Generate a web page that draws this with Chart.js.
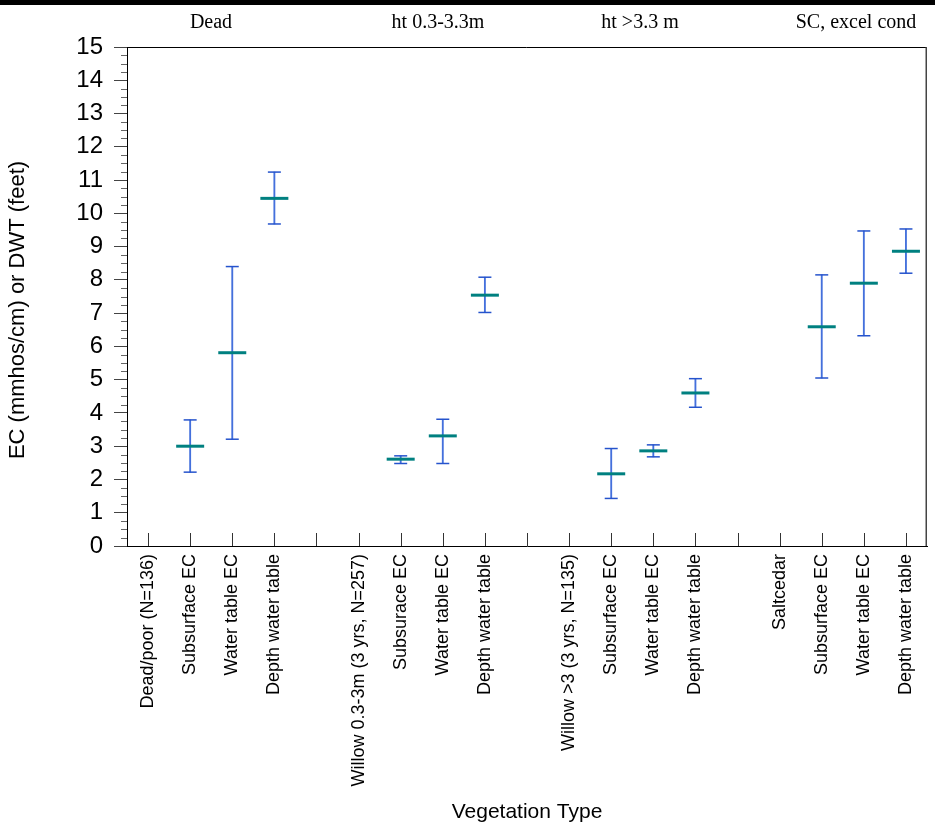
<!DOCTYPE html>
<html lang="en">
<head>
  <meta charset="UTF-8">
  <title>EC and depth to water table by vegetation type</title>
  <script src="https://cdn.jsdelivr.net/npm/chart.js"></script>
  <style>
    body { margin: 0; background: #fff; }
    .wrap { width: 935px; height: 827px; position: relative; }
  </style>
</head>
<body>
  <div class="wrap"><canvas id="ecChart" width="935" height="827"></canvas></div>

<script>
  // category slots along the x axis ('' = spacer between groups)
  const categories = [
    'Dead/poor (N=136)', 'Subsurface EC', 'Water table EC', 'Depth water table', '',
    'Willow 0.3-3m (3 yrs, N=257)', 'Subsurace EC', 'Water table EC', 'Depth water table', '',
    'Willow >3 (3 yrs, N=135)', 'Subsurface EC', 'Water table EC', 'Depth water table', '',
    'Saltcedar', 'Subsurface EC', 'Water table EC', 'Depth water table'
  ];

  // mean values and error bar limits
  const means = [null, 3.00, 5.81, 10.45, null, null, 2.61, 3.31, 7.54, null, null, 2.17, 2.86, 4.60, null, null, 6.59, 7.90, 8.86];
  const upper = [null, 3.79, 8.40, 11.24, null, null, 2.71, 3.81, 8.08, null, null, 2.93, 3.04, 5.03, null, null, 8.15, 9.47, 9.53];
  const lower = [null, 2.22, 3.21, 9.68, null, null, 2.48, 2.48, 7.02, null, null, 1.43, 2.68, 4.17, null, null, 5.05, 6.32, 8.20];

  const groupLabels = ['Dead', 'ht 0.3-3.3m', 'ht >3.3 m', 'SC, excel cond'];
  const yTitle = 'EC (mmhos/cm) or DWT (feet)';
  const yTicks = { min: 0, max: 15, step: 1, minor: 0.25 };

  const SANS = 'Liberation Sans, Arial, sans-serif';
  const BLUE = '#4470dc';
  const CAP = '#2553cc';
  const TEAL = '#008080';

  const stems = means.map((m, i) => (m == null ? null : [lower[i], upper[i]]));

  // frame, minor ticks, x ticks, y title and the header strip
  const decorations = {
    id: 'decorations',
    afterDraw(chart) {
      const ctx = chart.ctx;
      const area = chart.chartArea;
      const x = chart.scales.x;
      const y = chart.scales.y;
      ctx.save();

      ctx.fillStyle = '#000';
      ctx.fillRect(0, 0, chart.width, 5);

      ctx.strokeStyle = '#000';
      ctx.lineWidth = 1;
      ctx.beginPath();
      ctx.moveTo(area.left, area.top + 0.5);
      ctx.lineTo(area.right - 0.5, area.top + 0.5);
      ctx.stroke();
      ctx.strokeStyle = '#444';
      ctx.lineWidth = 1.5;
      ctx.beginPath();
      ctx.moveTo(area.right - 0.75, area.top);
      ctx.lineTo(area.right - 0.75, area.bottom);
      ctx.stroke();

      // minor y ticks
      ctx.strokeStyle = '#666';
      ctx.lineWidth = 1;
      for (let v = yTicks.min; v <= yTicks.max; v += yTicks.minor) {
        if (Math.abs(v - Math.round(v)) < 1e-6) continue;
        const py = Math.round(y.getPixelForValue(v)) + 0.5;
        ctx.beginPath();
        ctx.moveTo(area.left - 6, py);
        ctx.lineTo(area.left, py);
        ctx.stroke();
      }

      // x ticks pointing into the plot
      ctx.strokeStyle = '#333';
      categories.forEach((c, i) => {
        const px = Math.round(x.getPixelForValue(i)) + 0.5;
        ctx.beginPath();
        ctx.moveTo(px, area.bottom);
        ctx.lineTo(px, area.bottom - 13);
        ctx.stroke();
      });

      // group headings
      ctx.fillStyle = '#000';
      ctx.font = '20px "Liberation Serif", "Times New Roman", serif';
      ctx.textAlign = 'center';
      ctx.textBaseline = 'alphabetic';
      const centers = [211, 438, 640, 856];
      groupLabels.forEach((t, i) => ctx.fillText(t, centers[i], 28));

      // y axis title
      ctx.font = '22px ' + SANS;
      ctx.textBaseline = 'middle';
      ctx.translate(18, 310);
      ctx.rotate(-Math.PI / 2);
      ctx.fillText(yTitle, 0, 0);

      ctx.restore();
    }
  };

  new Chart(document.getElementById('ecChart'), {
    type: 'bar',
    data: {
      labels: categories,
      datasets: [
        {
          type: 'bar',
          data: stems,
          backgroundColor: BLUE,
          barThickness: 1.2,
          order: 3
        },
        {
          type: 'line',
          data: upper,
          showLine: false,
          pointStyle: 'line',
          pointRadius: 6.5,
          pointBorderWidth: 1.5,
          borderColor: CAP,
          order: 2
        },
        {
          type: 'line',
          data: lower,
          showLine: false,
          pointStyle: 'line',
          pointRadius: 6.5,
          pointBorderWidth: 1.5,
          borderColor: CAP,
          order: 2
        },
        {
          type: 'line',
          data: means,
          showLine: false,
          pointStyle: 'line',
          pointRadius: 14,
          pointBorderWidth: 3,
          borderColor: TEAL,
          order: 1
        }
      ]
    },
    options: {
      responsive: false,
      animation: false,
      layout: { autoPadding: false, padding: { top: 47, right: 8, left: 0, bottom: 0 } },
      plugins: {
        legend: { display: false },
        tooltip: { enabled: false }
      },
      scales: {
        x: {
          type: 'category',
          offset: true,
          afterFit(scale) {
            scale.height = 281;
            scale.paddingLeft = 0;
            scale.paddingRight = 0;
          },
          grid: { drawOnChartArea: false, drawTicks: false },
          border: { color: '#000', width: 1 },
          ticks: {
            autoSkip: false,
            maxRotation: 90,
            minRotation: 90,
            padding: 8,
            color: '#000',
            font: { family: SANS, size: 18 }
          },
          title: {
            display: true,
            text: 'Vegetation Type',
            color: '#000',
            font: { family: SANS, size: 21 },
            padding: { top: 0, bottom: 2 }
          }
        },
        y: {
          min: yTicks.min,
          max: yTicks.max,
          afterFit(scale) { scale.width = 127; },
          grid: { drawOnChartArea: false, tickLength: 13, tickColor: '#444' },
          border: { color: '#000', width: 1 },
          ticks: {
            stepSize: yTicks.step,
            padding: 11,
            color: '#000',
            font: { family: SANS, size: 24 }
          }
        }
      }
    },
    plugins: [decorations]
  });
</script>
</body>
</html>
